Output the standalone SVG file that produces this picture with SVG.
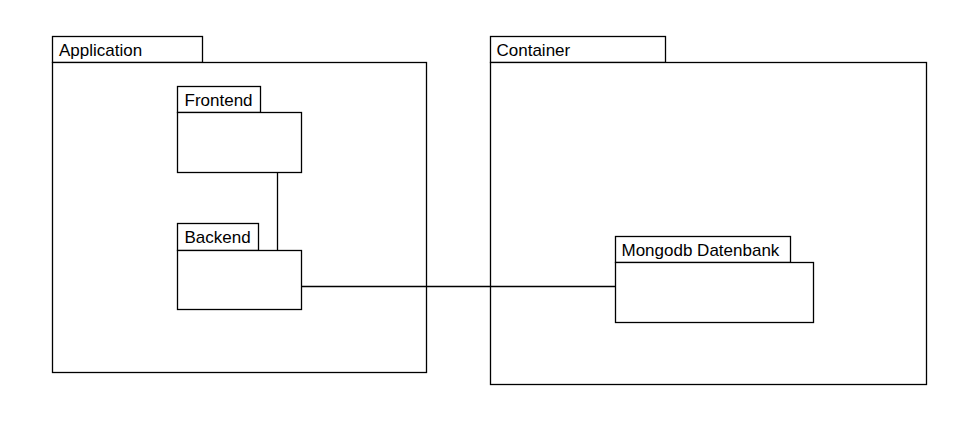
<svg xmlns="http://www.w3.org/2000/svg" width="958" height="422" viewBox="0 0 958 422">
<style>
.b{fill:#fff;stroke:#000;stroke-width:1.3}
.t{font-family:"Liberation Sans",Arial,sans-serif;font-size:17px;fill:#000}
.c{fill:none;stroke:#000;stroke-width:1.3}
</style>
<rect width="958" height="422" fill="#fff"/>
<g id="application">
<rect class="b" x="52.5" y="36.5" width="150" height="26"/>
<rect class="b" x="52.5" y="62.5" width="374" height="310"/>
<text class="t" x="59" y="56">Application</text>
</g>
<g id="container">
<rect class="b" x="490.5" y="36.5" width="175" height="26"/>
<rect class="b" x="490.5" y="62.5" width="436" height="322"/>
<text class="t" x="496.5" y="56">Container</text>
</g>
<g id="frontend">
<rect class="b" x="177.5" y="86.5" width="83" height="26"/>
<rect class="b" x="177.5" y="112.5" width="124" height="60"/>
<text class="t" x="184.5" y="106">Frontend</text>
</g>
<g id="backend">
<rect class="b" x="177.5" y="223.5" width="81" height="27"/>
<rect class="b" x="177.5" y="250.5" width="124" height="59"/>
<text class="t" x="184.5" y="243">Backend</text>
</g>
<g id="mongodb">
<rect class="b" x="615.5" y="236.5" width="175" height="26"/>
<rect class="b" x="615.5" y="262.5" width="198" height="60"/>
<text class="t" x="621.5" y="256">Mongodb Datenbank</text>
</g>
<g id="connectors">
<line class="c" x1="277.5" y1="172.5" x2="277.5" y2="250.5"/>
<line class="c" x1="301.5" y1="286.5" x2="615.5" y2="286.5"/>
</g>
</svg>
